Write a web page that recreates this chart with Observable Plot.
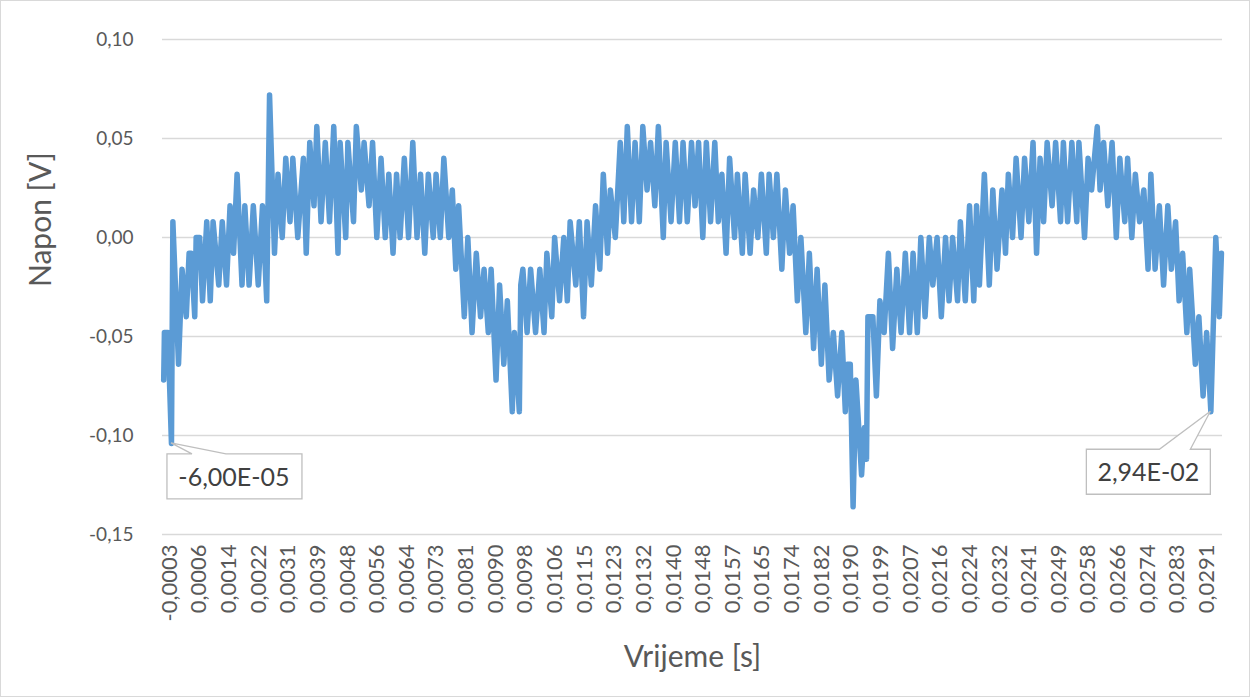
<!DOCTYPE html>
<html>
<head>
<meta charset="utf-8">
<script src="https://cdn.jsdelivr.net/npm/d3@7"></script>
<script src="https://cdn.jsdelivr.net/npm/@observablehq/plot@0.6"></script>
<style>
  html, body { margin: 0; padding: 0; background: #ffffff; }
  #wrap { position: relative; width: 1250px; height: 697px; overflow: hidden; background: #fff; }
  #border { position: absolute; left: 0; top: 0; width: 1250px; height: 697px; box-sizing: border-box; border: 1px solid #d9d9d9; pointer-events: none; }
  #wrap svg { display: block; position: absolute; left: 0; top: 0; }
</style>
</head>
<body>
<div id="wrap"><div id="border"></div></div>
<script>
// ---- data (sample index of each visible vertex, voltage in V) ----
const t0 = -0.00028;      // time of sample 0 [s]
const dt = 0.00002;       // sampling interval [s]
const labelEvery = 42;    // one category label every 42 samples

const sampleIndex = [
  0, 1, 6, 11, 13, 21, 26, 32, 36, 39, 44, 46, 51, 55, 61, 66, 70, 78, 83, 89, 94, 99, 104, 111, 115,
  121, 127, 134, 140, 146, 150, 157, 162, 168, 173, 179, 183, 190, 198, 202, 207, 213, 217, 223, 229, 235, 241, 247,
  250, 258, 261, 269, 273, 280, 284, 291, 296, 302, 308, 314, 319, 325, 330, 335, 341, 347, 353, 359, 364, 370,
  375, 382, 386, 392, 397, 404, 409, 414, 418, 426, 431, 437, 443, 449, 454, 460, 464, 471, 476, 482, 487, 494, 497,
  504, 506, 509, 515, 520, 527, 533, 539, 543, 550, 554, 561, 567, 572, 576, 584, 589, 595, 600, 606, 612, 618,
  623, 629, 633, 640, 647, 652, 657, 663, 668, 674, 679, 685, 690, 696, 701, 708, 712, 719, 725, 731, 736, 742,
  748, 753, 758, 764, 769, 775, 781, 786, 791, 797, 802, 809, 813, 820, 824, 831, 836, 842, 847, 854, 858, 864,
  869, 876, 881, 887, 892, 898, 903, 910, 915, 921, 926, 932, 937, 943,
  949, 955, 961, 966, 969, 973, 977, 981, 989, 993, 996, 998, 1005, 1010, 1015, 1021, 1027, 1033, 1039, 1045,
  1051, 1057, 1062, 1068, 1073, 1079, 1085, 1090, 1096, 1102, 1108, 1113, 1118, 1125, 1129, 1136, 1142, 1148, 1152, 1156,
  1163, 1170, 1175, 1181, 1188, 1193, 1197, 1203, 1208, 1215, 1220, 1226, 1232, 1237,
  1242, 1247, 1252, 1259, 1264, 1271, 1275, 1281, 1287, 1294, 1297, 1305, 1310, 1315, 1323, 1327, 1332, 1338, 1344, 1350,
  1355, 1362, 1366, 1372, 1377, 1383, 1389, 1395, 1399, 1405, 1411, 1417, 1423, 1428, 1434, 1439, 1444, 1450, 1454, 1462,
  1467, 1473, 1478, 1484, 1491, 1496, 1499
];

const voltage = [
  -0.072, -0.048, -0.048, -0.104, 0.008, -0.064, -0.016, -0.040, -0.008, -0.008, -0.040, 0, 0, -0.032, 0.008, -0.032, 0.008, -0.024, 0.008, -0.024, 0.016, -0.008, 0.032, -0.024, 0.016,
  -0.024, 0.016, -0.024, 0.016, -0.032, 0.072, -0.008, 0.032, 0, 0.040, 0.008, 0.040, 0, 0.040, -0.008, 0.048, 0.016, 0.056, 0.008, 0.048, 0.008, 0.056, -0.008,
  0.048, 0, 0.048, 0.008, 0.056, 0.024, 0.048, 0.016, 0.048, 0, 0.040, 0, 0.032, -0.008, 0.032, 0, 0.040, 0, 0.048, 0, 0.032, -0.008,
  0.032, 0, 0.032, 0, 0.040, 0, 0.024, -0.016, 0.016, -0.040, 0, -0.048, -0.008, -0.040, -0.016, -0.048, -0.016, -0.072, -0.024, -0.064, -0.032, -0.088, -0.048,
  -0.088, -0.024, -0.016, -0.048, -0.016, -0.048, -0.016, -0.048, -0.008, -0.040, 0, -0.032, 0, -0.032, 0.008, -0.024, 0.008, -0.040, 0.008, -0.024, 0.016, -0.016,
  0.032, -0.008, 0.024, 0, 0.048, 0.008, 0.056, 0.008, 0.048, 0.008, 0.056, 0.024, 0.048, 0.016, 0.056, 0, 0.048, 0.008, 0.048, 0.008, 0.048, 0.008,
  0.048, 0.016, 0.048, 0, 0.048, 0.008, 0.048, 0.008, 0.032, -0.008, 0.040, 0, 0.032, -0.008, 0.032, -0.008, 0.024, 0, 0.032, -0.008, 0.032, 0,
  0.032, -0.016, 0.024, -0.008, 0.016, -0.032, 0, -0.048, -0.008, -0.056, -0.016, -0.064, -0.024, -0.072,
  -0.048, -0.080, -0.048, -0.088, -0.064, -0.064, -0.136, -0.072, -0.120, -0.096, -0.112, -0.040, -0.040, -0.080, -0.032, -0.048, -0.008, -0.056, -0.016, -0.048,
  -0.008, -0.048, -0.008, -0.048, 0, -0.040, 0, -0.024, 0, -0.040, 0, -0.032, 0, -0.032, 0.008, -0.032, 0.016, -0.032, 0.016, -0.024,
  0.032, -0.024, 0.024, -0.016, 0.024, -0.008, 0.032, 0, 0.040, 0, 0.040, 0.008, 0.048, -0.008,
  0.040, 0.008, 0.048, 0.016, 0.048, 0.008, 0.048, 0.008, 0.048, 0.008, 0.048, 0, 0.040, 0.024, 0.056, 0.024, 0.048, 0.016, 0.048, 0,
  0.040, 0.008, 0.040, 0, 0.032, 0.008, 0.024, -0.016, 0.032, -0.016, 0.016, -0.024, 0.016, -0.016, 0.008, -0.032, -0.008, -0.048, -0.016, -0.064,
  -0.040, -0.080, -0.048, -0.088, 0, -0.040, -0.008
];

const xTickLabels = [
  "-0,0003", "0,0006", "0,0014", "0,0022", "0,0031", "0,0039", "0,0048", "0,0056", "0,0064",
  "0,0073", "0,0081", "0,0090", "0,0098", "0,0106", "0,0115", "0,0123", "0,0132", "0,0140",
  "0,0148", "0,0157", "0,0165", "0,0174", "0,0182", "0,0190", "0,0199", "0,0207", "0,0216",
  "0,0224", "0,0232", "0,0241", "0,0249", "0,0258", "0,0266", "0,0274", "0,0283", "0,0291"
];

const yTicks = [-0.15, -0.10, -0.05, 0.00, 0.05, 0.10];
const yTickLabels = ["-0,15", "-0,10", "-0,05", "0,00", "0,05", "0,10"];

// data labels (callouts) on the two minima
const calloutIndex = [11, 1484];
const calloutText = ["-6,00E-05", "2,94E-02"];

// ---- build ----
const data = sampleIndex.map((i, k) => ({ t: t0 + i * dt, v: voltage[k] }));
const xTicks = xTickLabels.map((_, k) => t0 + k * labelEvery * dt);
const xLabelOf = new Map(xTicks.map((t, k) => [t, xTickLabels[k]]));
const yLabelOf = new Map(yTicks.map((v, k) => [v, yTickLabels[k]]));

const FONT = "Lato, 'Open Sans', sans-serif";
const TXT = "#595959";

const chart = Plot.plot({
  width: 1250,
  height: 697,
  marginLeft: 162,
  marginRight: 28,
  marginTop: 39,
  marginBottom: 163,
  style: { fontFamily: FONT, color: TXT, background: "transparent", overflow: "visible" },
  x: { type: "linear", domain: [t0 - 1.7 * dt, t0 + 1500.5 * dt] },
  y: { domain: [-0.15, 0.10] },
  marks: [
    Plot.ruleY(yTicks, { stroke: "#d9d9d9", strokeWidth: 1.3 }),
    Plot.axisY({
      ticks: yTicks, tickFormat: d => yLabelOf.get(d), tickSize: 0, tickPadding: 29,
      fontSize: 19, label: null
    }),
    Plot.axisX({
      ticks: xTicks, tickFormat: d => xLabelOf.get(d), tickSize: 0, tickPadding: 10,
      tickRotate: -90, fontSize: 22, dx: 6, label: null
    }),
    Plot.line(data, {
      x: "t", y: "v", stroke: "#5b9bd5", strokeWidth: 5.5,
      strokeLinejoin: "round", strokeLinecap: "round"
    }),
    Plot.text(["Vrijeme [s]"], { frameAnchor: "bottom", dy: 123, fontSize: 30, fill: TXT, lineAnchor: "middle" }),
    Plot.text(["Napon [V]"], { frameAnchor: "left", dx: -121, rotate: -90, fontSize: 30, fill: TXT, lineAnchor: "middle" })
  ]
});
document.getElementById("wrap").prepend(chart);

// ---- callout boxes, positioned through Plot's own scales ----
const sx = chart.scale("x"), sy = chart.scale("y");
const svg = d3.select(chart);
const shapes = [
  // box relative to the point: left, right, top, bottom, wedge start, wedge end, text dx, text dy
  { l: -4, r: 131, t: 11, b: 56, w1: 21, w2: 55, tx: 63, ty: 34 },
  { l: -124, r: 0, t: 38, b: 83, w1: -51, w2: -20, tx: -62, ty: 61 }
];
calloutIndex.forEach((idx, k) => {
  const j = sampleIndex.indexOf(idx);
  const px = sx.apply(t0 + idx * dt), py = sy.apply(voltage[j]);
  const s = shapes[k];
  const L = px + s.l, R = px + s.r, T = py + s.t, B = py + s.b;
  const path = `M${px + s.w2},${T} L${R},${T} L${R},${B} L${L},${B} L${L},${T} L${px + s.w1},${T} L${px},${py} Z`;
  svg.append("path").attr("d", path).attr("fill", "#ffffff").attr("stroke", "#bfbfbf").attr("stroke-width", 1.3);
  svg.append("text").attr("x", px + s.tx).attr("y", py + s.ty).attr("text-anchor", "middle")
    .attr("dy", "0.35em").attr("font-family", FONT).attr("font-size", 25).attr("fill", "#404040")
    .text(calloutText[k]);
});
</script>
</body>
</html>
